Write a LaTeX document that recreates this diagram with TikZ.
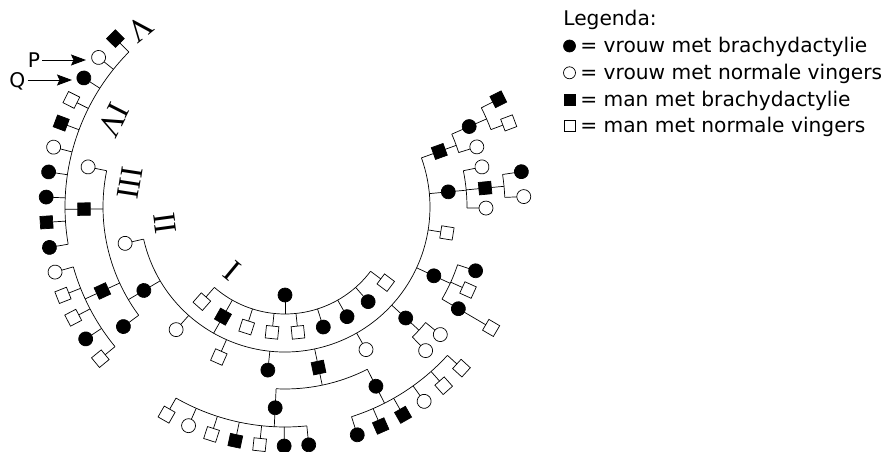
\documentclass[tikz,border=0pt]{standalone}
\usepackage{fontspec}
\setmainfont{DejaVu Sans}
\newfontfamily\romfont{Liberation Serif}
\usetikzlibrary{arrows.meta}
\newcommand\pInd[4]{%
  \node[#1,rotate=#3] (#2) at ({#3}:{#4+19}) {};
  \coordinate (#2s) at ({#3}:{#4});
  \draw (#2s) -- (#2);}
\newcommand\pDesc[3]{%
  \coordinate (#1d) at ({#2}:{#3});
  \draw (#1) -- (#1d);}
\newcommand\pSib[4]{%
  \coordinate (#1) at ({#2}:{#4});
  \draw (#1) arc[start angle=#2, end angle=#3, radius=#4pt];}
\begin{document}
\begin{tikzpicture}[x=1pt,y=1pt,line width=0.7pt,
  base/.style={draw=black, line width=0.7pt, inner sep=0pt, outer sep=0pt},
  femA/.style={base, circle, fill=black, minimum size=14pt},
  femN/.style={base, circle, fill=white, minimum size=14pt},
  malA/.style={base, rectangle, fill=black, minimum size=12.5pt},
  malN/.style={base, rectangle, fill=white, minimum size=12.5pt},
  lgfemA/.style={femA, minimum size=12pt},
  lgfemN/.style={femN, minimum size=12pt},
  lgmalA/.style={malA, minimum size=11pt},
  lgmalN/.style={malN, minimum size=11pt},
  rom/.style={inner sep=0pt, font=\romfont\fontsize{32}{34}\selectfont},
  lab/.style={inner sep=0pt, font=\fontsize{20.2}{24}\selectfont},
  arr/.style={line width=0.9pt, -{Stealth[length=15pt,width=11pt,inset=2.5pt]}}]
\useasboundingbox (0,0) rectangle (883,-452);
\begin{scope}[shift={(285,-207)}]
% generation I
\node[femA] (F) at (270:88) {};
\pDesc{F}{270}{107}
% generation II
\pSib{A2}{228.7}{323.1}{107}
\pInd{malN}{b1}{228.7}{107}
\pInd{malA}{b2}{240.5}{107}
\pInd{malN}{b3}{252.3}{107}
\pInd{malN}{b4}{264.1}{107}
\pInd{malN}{b5}{275.9}{107}
\pInd{femA}{b6}{287.7}{107}
\pInd{femA}{b7}{299.5}{107}
\pInd{femA}{b8}{311.3}{107}
\pInd{malN}{b9}{323.1}{107}
% generation III
\pDesc{b2}{240.5}{145}
\pSib{A3}{192.8}{379.8}{145}
\pInd{femN}{c1}{192.8}{145}
\pInd{femA}{c2}{210.6}{145}
\pInd{femN}{c3}{228.4}{145}
\pInd{malN}{c4}{246.2}{145}
\pInd{femA}{c5}{264}{145}
\pInd{malA}{c6}{281.8}{145}
\pInd{femN}{c7}{299.6}{145}
\pInd{femA}{c8}{317.4}{145}
\pInd{femA}{c9}{335.2}{145}
\pInd{malN}{c10}{350.9}{145}
\pInd{femA}{c11}{365.3}{145}
\pInd{malA}{c12}{379.8}{145}
% generation IV
\pDesc{c2}{210.6}{182}
\pSib{A4a}{168.5}{216.5}{182}
\pInd{femN}{d1}{168.5}{182}
\pInd{malA}{d2}{180.6}{182}
\pInd{malA}{d3}{204.7}{182}
\pInd{femA}{d4}{216.5}{182}
\pDesc{c6}{281.8}{182}
\pSib{A4b}{267.2}{296.9}{182}
\pInd{femA}{d5}{267.2}{182}
\pInd{femA}{d6}{296.9}{182}
\pDesc{c8}{317.4}{182}
\pSib{A4c}{314.4}{320.6}{182}
\pInd{femN}{d7}{314.4}{182}
\pInd{femN}{d8}{320.6}{182}
\pDesc{c9}{335.2}{182}
\pSib{A4d}{329.6}{341.5}{182}
\pInd{femA}{d9}{329.6}{182}
\pInd{malN}{d10}{335.6}{182}
\pInd{femA}{d11}{341.5}{182}
\pDesc{c11}{365.3}{182}
\pSib{A4e}{359.7}{371.5}{182}
\pInd{femN}{d12}{359.7}{182}
\pInd{malA}{d13}{365.4}{182}
\pInd{femN}{d14}{371.5}{182}
\pDesc{c12}{379.8}{182}
\pSib{A4f}{377.4}{383.6}{182}
\pInd{femN}{d15}{377.4}{182}
\pInd{femA}{d16}{383.6}{182}
% generation V
\pDesc{d2}{180.6}{220}
\pSib{A5a}{135.2}{189.74}{220}
\pInd{malA}{e1}{135.2}{220}
\pInd{femN}{e2}{141.26}{220}
\pInd{femA}{e3}{147.32}{220}
\pInd{malN}{e4}{153.38}{220}
\pInd{malA}{e5}{159.44}{220}
\pInd{femN}{e6}{165.5}{220}
\pInd{femA}{e7}{171.56}{220}
\pInd{femA}{e8}{177.62}{220}
\pInd{malA}{e9}{183.68}{220}
\pInd{femA}{e10}{189.74}{220}
\pDesc{d3}{204.7}{220}
\pSib{A5b}{195.8}{219.4}{220}
\pInd{femN}{e11}{195.8}{220}
\pInd{malN}{e12}{201.7}{220}
\pInd{malN}{e13}{207.6}{220}
\pInd{femA}{e14}{213.5}{220}
\pInd{malN}{e15}{219.4}{220}
\pDesc{d5}{267.2}{220}
\pSib{A5c}{240.3}{275.7}{220}
\pInd{malN}{e16}{240.3}{220}
\pInd{femN}{e17}{246.2}{220}
\pInd{malN}{e18}{252.1}{220}
\pInd{malA}{e19}{258.0}{220}
\pInd{malN}{e20}{263.9}{220}
\pInd{femA}{e21}{269.8}{220}
\pInd{femA}{e22}{275.7}{220}
\pDesc{d6}{296.9}{220}
\pSib{A5d}{287.6}{317.6}{220}
\pInd{femA}{e23}{287.6}{220}
\pInd{malA}{e24}{293.6}{220}
\pInd{malA}{e25}{299.6}{220}
\pInd{femN}{e26}{305.6}{220}
\pInd{malN}{e27}{311.6}{220}
\pInd{malN}{e28}{317.6}{220}
\node[malN,rotate=329.6] (e29) at (329.6:239) {};
\draw (d9) -- (e29);
\pDesc{d13}{365.4}{220}
\pSib{A5e}{362.5}{368.5}{220}
\pInd{femN}{e30}{362.5}{220}
\pInd{femA}{e31}{368.5}{220}
\pDesc{d16}{383.6}{220}
\pSib{A5f}{380.6}{386.8}{220}
\pInd{malN}{e32}{380.6}{220}
\pInd{malA}{e33}{386.8}{220}
% generation numerals
\node[rom,rotate=320.4] (LI) at (230.4:82.7) {I};
\node[rom,rotate=277.7] (LII) at (187.7:121) {II};
\node[rom,rotate=261.3] (LIII) at (171.3:156.8) {III};
\node[rom,rotate=243.1] (LIV) at (153.1:192.5) {IV};
\node[rom,rotate=219] (LV) at (129:230) {V};
\end{scope}
% P and Q
\node[lab,anchor=base] (Plab) at (34,-67.5) {P};
\node[lab,anchor=base] (Qlab) at (17.2,-87.5) {Q};
\coordinate (Ptip) at (86,-60);
\coordinate (Qtip) at (72,-80);
\draw[arr] ([shift={(2pt,7.5pt)}]Plab.base east) -- (Ptip);
\draw[arr] ([shift={(2pt,7.5pt)}]Qlab.base east) -- (Qtip);
% legend
\node[lab,anchor=base west] (leg) at (563,-25.5) {Legenda:};
\node[lgfemA] (k1) at (569.5,-46) {};
\node[lgfemN] (k2) at (569.5,-72.8) {};
\node[lgmalA] (k3) at (570,-99.5) {};
\node[lgmalN] (k4) at (570,-126.2) {};
\node[lab,anchor=base west] (t1) at (580,-52.5) {= vrouw met brachydactylie};
\node[lab,anchor=base west] (t2) at (580,-79.3) {= vrouw met normale vingers};
\node[lab,anchor=base west] (t3) at (580,-106) {= man met brachydactylie};
\node[lab,anchor=base west] (t4) at (580,-132.7) {= man met normale vingers};
\end{tikzpicture}
\end{document}
